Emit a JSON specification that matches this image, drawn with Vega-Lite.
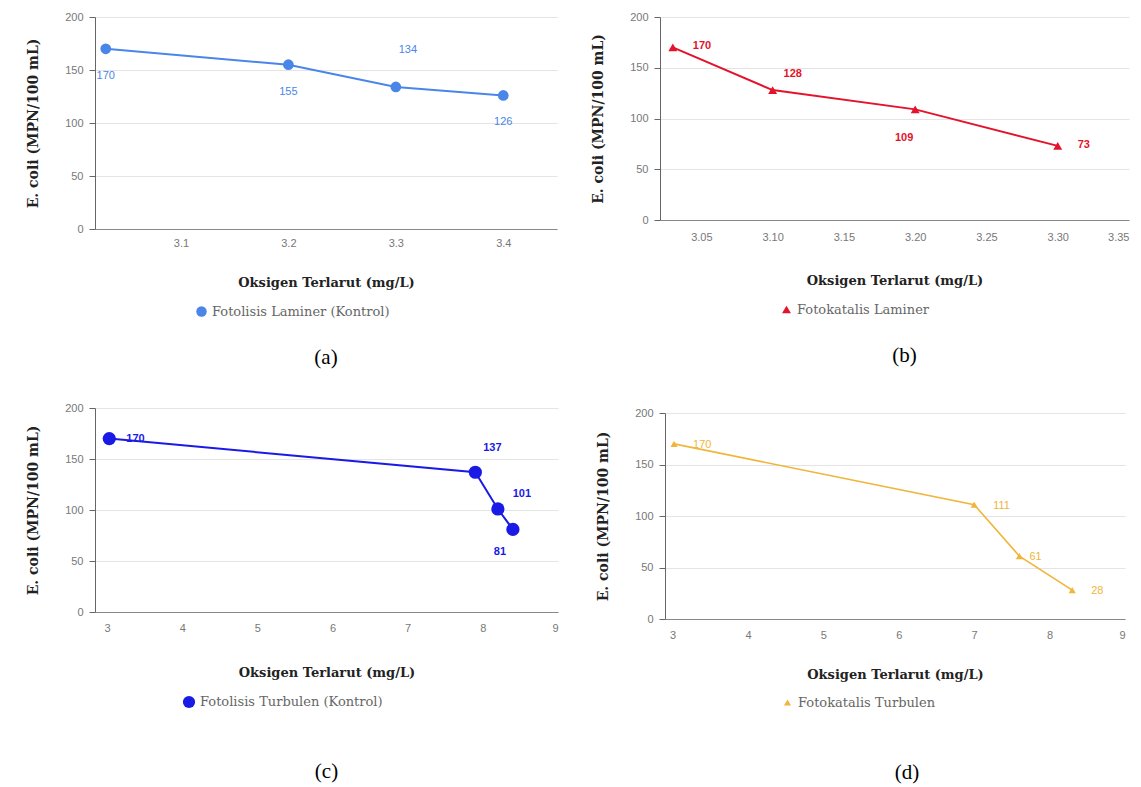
{
  "$schema": "https://vega.github.io/schema/vega-lite/v6.json",
  "background": "white",
  "padding": {"left": 26, "top": 11, "right": 5, "bottom": 5},
  "spacing": 34,
  "resolve": {"scale": {"color": "independent", "shape": "independent", "x": "independent", "y": "independent"}},
  "vconcat": [
    {
      "spacing": 34,
      "resolve": {"scale": {"color": "independent", "shape": "independent", "x": "independent", "y": "independent"}},
      "hconcat": [
        {
          "width": 462, "height": 212,
          "title": {"text": "(a)", "offset": 28},
          "data": {"values": [
            {"do": 3.03, "ecoli": 170, "series": "Fotolisis Laminer (Kontrol)"},
            {"do": 3.2, "ecoli": 155, "series": "Fotolisis Laminer (Kontrol)"},
            {"do": 3.3, "ecoli": 134, "series": "Fotolisis Laminer (Kontrol)"},
            {"do": 3.4, "ecoli": 126, "series": "Fotolisis Laminer (Kontrol)"}
          ]},
          "encoding": {
            "x": {"field": "do", "type": "quantitative", "scale": {"domain": [3.02, 3.45], "nice": false, "zero": false}, "axis": {"values": [3.1, 3.2, 3.3, 3.4], "format": ".1f", "title": "Oksigen Terlarut (mg/L)", "labelPadding": 8, "titlePadding": 28}},
            "y": {"field": "ecoli", "type": "quantitative", "scale": {"domain": [0, 200], "nice": false}, "axis": {"values": [0, 50, 100, 150, 200], "title": "E. coli (MPN/100 mL)"}}
          },
          "layer": [
            {"mark": {"type": "line", "color": "#4a86e8", "strokeWidth": 2}},
            {"mark": {"type": "point", "filled": true, "size": 115, "opacity": 1},
             "encoding": {"color": {"field": "series", "type": "nominal", "scale": {"range": ["#4a86e8"]}, "legend": {"orient": "none", "legendX": 100, "legendY": 288, "symbolSize": 110}},
                          "shape": {"field": "series", "type": "nominal", "scale": {"range": ["circle"]}}}},
            {"transform": [{"filter": "datum.ecoli != 134"}],
             "mark": {"type": "text", "color": "#4a86e8", "font": "Liberation Sans", "fontSize": 11, "dy": 27},
             "encoding": {"text": {"field": "ecoli", "type": "quantitative"}}},
            {"transform": [{"filter": "datum.ecoli == 134"}],
             "mark": {"type": "text", "color": "#4a86e8", "font": "Liberation Sans", "fontSize": 11, "dx": 12, "dy": -37},
             "encoding": {"text": {"field": "ecoli", "type": "quantitative"}}}
          ]
        },
        {
          "width": 469, "height": 203,
          "title": {"text": "(b)", "offset": 28, "dx": 10},
          "data": {"values": [
            {"do": 3.03, "ecoli": 170, "series": "Fotokatalis Laminer"},
            {"do": 3.1, "ecoli": 128, "series": "Fotokatalis Laminer"},
            {"do": 3.2, "ecoli": 109, "series": "Fotokatalis Laminer"},
            {"do": 3.3, "ecoli": 73, "series": "Fotokatalis Laminer"}
          ]},
          "encoding": {
            "x": {"field": "do", "type": "quantitative", "scale": {"domain": [3.021, 3.35], "nice": false, "zero": false}, "axis": {"values": [3.05, 3.1, 3.15, 3.2, 3.25, 3.3, 3.35], "format": ".2f", "title": "Oksigen Terlarut (mg/L)", "labelPadding": 11, "titlePadding": 32}},
            "y": {"field": "ecoli", "type": "quantitative", "scale": {"domain": [0, 200], "nice": false}, "axis": {"values": [0, 50, 100, 150, 200], "title": "E. coli (MPN/100 mL)"}}
          },
          "layer": [
            {"mark": {"type": "line", "color": "#e3132b", "strokeWidth": 2}},
            {"mark": {"type": "point", "filled": true, "size": 80, "opacity": 1},
             "encoding": {"color": {"field": "series", "type": "nominal", "scale": {"range": ["#e3132b"]}, "legend": {"orient": "none", "legendX": 120, "legendY": 286, "symbolSize": 80}},
                          "shape": {"field": "series", "type": "nominal", "scale": {"range": ["triangle-up"]}}}},
            {"transform": [{"filter": "datum.ecoli == 170 || datum.ecoli == 73"}],
             "mark": {"type": "text", "color": "#e3132b", "font": "Liberation Sans", "fontSize": 11, "fontWeight": "bold", "align": "left", "dx": 20, "dy": -1},
             "encoding": {"text": {"field": "ecoli", "type": "quantitative"}}},
            {"transform": [{"filter": "datum.ecoli == 128"}],
             "mark": {"type": "text", "color": "#e3132b", "font": "Liberation Sans", "fontSize": 11, "fontWeight": "bold", "align": "left", "dx": 11, "dy": -16},
             "encoding": {"text": {"field": "ecoli", "type": "quantitative"}}},
            {"transform": [{"filter": "datum.ecoli == 109"}],
             "mark": {"type": "text", "color": "#e3132b", "font": "Liberation Sans", "fontSize": 11, "fontWeight": "bold", "dx": -11, "dy": 29},
             "encoding": {"text": {"field": "ecoli", "type": "quantitative"}}}
          ]
        }
      ]
    },
    {
      "spacing": 38,
      "resolve": {"scale": {"color": "independent", "shape": "independent", "x": "independent", "y": "independent"}},
      "hconcat": [
        {
          "width": 463, "height": 204,
          "title": {"text": "(c)", "offset": 52},
          "data": {"values": [
            {"do": 3.03, "ecoli": 170, "series": "Fotolisis Turbulen (Kontrol)"},
            {"do": 7.9, "ecoli": 137, "series": "Fotolisis Turbulen (Kontrol)"},
            {"do": 8.2, "ecoli": 101, "series": "Fotolisis Turbulen (Kontrol)"},
            {"do": 8.4, "ecoli": 81, "series": "Fotolisis Turbulen (Kontrol)"}
          ]},
          "encoding": {
            "x": {"field": "do", "type": "quantitative", "scale": {"domain": [2.84, 9], "nice": false, "zero": false}, "axis": {"values": [3, 4, 5, 6, 7, 8, 9], "format": "d", "title": "Oksigen Terlarut (mg/L)", "labelPadding": 10, "titlePadding": 33}},
            "y": {"field": "ecoli", "type": "quantitative", "scale": {"domain": [0, 200], "nice": false}, "axis": {"values": [0, 50, 100, 150, 200], "title": "E. coli (MPN/100 mL)"}}
          },
          "layer": [
            {"mark": {"type": "line", "color": "#1a1ae6", "strokeWidth": 2}},
            {"mark": {"type": "point", "filled": true, "size": 175, "opacity": 1},
             "encoding": {"color": {"field": "series", "type": "nominal", "scale": {"range": ["#1a1ae6"]}, "legend": {"orient": "none", "legendX": 87, "legendY": 287, "symbolSize": 150}},
                          "shape": {"field": "series", "type": "nominal", "scale": {"range": ["circle"]}}}},
            {"transform": [{"filter": "datum.ecoli == 170"}],
             "mark": {"type": "text", "color": "#1a1ae6", "font": "Liberation Sans", "fontSize": 11, "fontWeight": "bold", "align": "left", "dx": 17, "dy": 0},
             "encoding": {"text": {"field": "ecoli", "type": "quantitative"}}},
            {"transform": [{"filter": "datum.ecoli == 137"}],
             "mark": {"type": "text", "color": "#1a1ae6", "font": "Liberation Sans", "fontSize": 11, "fontWeight": "bold", "dx": 17, "dy": -24},
             "encoding": {"text": {"field": "ecoli", "type": "quantitative"}}},
            {"transform": [{"filter": "datum.ecoli == 101"}],
             "mark": {"type": "text", "color": "#1a1ae6", "font": "Liberation Sans", "fontSize": 11, "fontWeight": "bold", "dx": 24, "dy": -15},
             "encoding": {"text": {"field": "ecoli", "type": "quantitative"}}},
            {"transform": [{"filter": "datum.ecoli == 81"}],
             "mark": {"type": "text", "color": "#1a1ae6", "font": "Liberation Sans", "fontSize": 11, "fontWeight": "bold", "dx": -13, "dy": 23},
             "encoding": {"text": {"field": "ecoli", "type": "quantitative"}}}
          ]
        },
        {
          "width": 460, "height": 211,
          "title": {"text": "(d)", "offset": 52, "dx": 12},
          "data": {"values": [
            {"do": 3.02, "ecoli": 170, "series": "Fotokatalis Turbulen"},
            {"do": 7.0, "ecoli": 111, "series": "Fotokatalis Turbulen"},
            {"do": 7.6, "ecoli": 61, "series": "Fotokatalis Turbulen"},
            {"do": 8.3, "ecoli": 28, "series": "Fotokatalis Turbulen"}
          ]},
          "encoding": {
            "x": {"field": "do", "type": "quantitative", "scale": {"domain": [2.9, 9], "nice": false, "zero": false}, "axis": {"values": [3, 4, 5, 6, 7, 8, 9], "format": "d", "title": "Oksigen Terlarut (mg/L)", "labelPadding": 10, "titlePadding": 28}},
            "y": {"field": "ecoli", "type": "quantitative", "scale": {"domain": [0, 200], "nice": false, "range": [211, 5]}, "axis": {"values": [0, 50, 100, 150, 200], "title": "E. coli (MPN/100 mL)"}}
          },
          "layer": [
            {"mark": {"type": "line", "color": "#f0b53a", "strokeWidth": 1.6}},
            {"mark": {"type": "point", "filled": true, "size": 50, "opacity": 1},
             "encoding": {"color": {"field": "series", "type": "nominal", "scale": {"range": ["#f0b53a"]}, "legend": {"orient": "none", "legendX": 116, "legendY": 288, "symbolSize": 50}},
                          "shape": {"field": "series", "type": "nominal", "scale": {"range": ["triangle-up"]}}}},
            {"transform": [{"filter": "datum.ecoli != 61"}],
             "mark": {"type": "text", "color": "#f0b53a", "font": "Liberation Sans", "fontSize": 11, "align": "left", "dx": 19, "dy": 1},
             "encoding": {"text": {"field": "ecoli", "type": "quantitative"}}},
            {"transform": [{"filter": "datum.ecoli == 61"}],
             "mark": {"type": "text", "color": "#f0b53a", "font": "Liberation Sans", "fontSize": 11, "align": "left", "dx": 10, "dy": 1},
             "encoding": {"text": {"field": "ecoli", "type": "quantitative"}}}
          ]
        }
      ]
    }
  ],
  "config": {
    "view": {"stroke": null},
    "axis": {"labelFont": "Liberation Sans", "labelFontSize": 11, "labelColor": "#777", "titleFont": "DejaVu Serif", "titleFontSize": 13, "titleFontWeight": "bold", "titleColor": "#222", "domainColor": "#666", "tickColor": "#666", "gridColor": "#e4e4e4"},
    "axisX": {"grid": false, "ticks": false, "domainColor": "#888"},
    "axisY": {"grid": true, "tickSize": 6, "labelPadding": 6, "titlePadding": 24, "titleFontSize": 14},
    "legend": {"direction": "horizontal", "title": null, "labelFont": "DejaVu Serif", "labelFontSize": 13, "labelColor": "#666", "labelLimit": 0},
    "title": {"orient": "bottom", "anchor": "middle", "font": "Liberation Serif", "fontSize": 21, "fontWeight": "normal", "color": "#000"}
  }
}
